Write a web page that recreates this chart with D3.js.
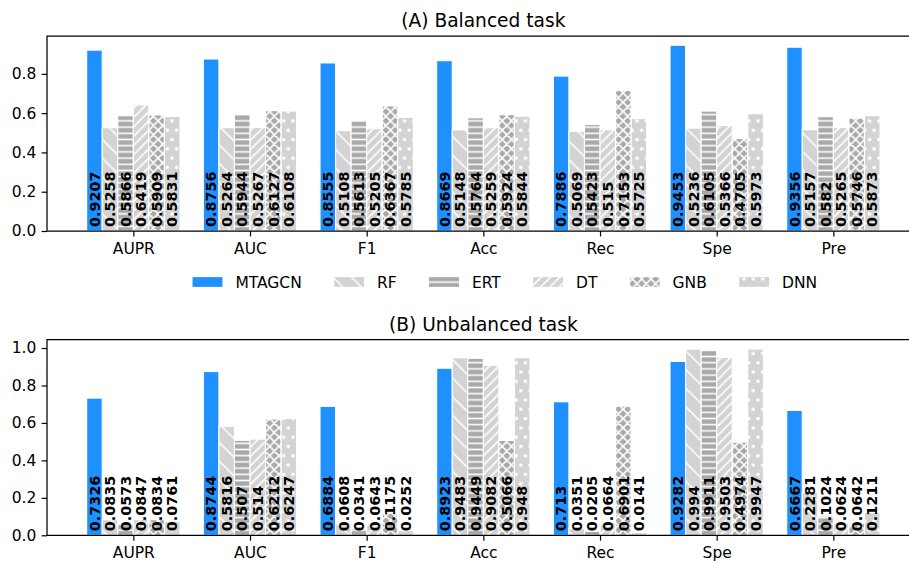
<!DOCTYPE html>
<html>
<head>
<meta charset="utf-8">
<script src="https://cdn.jsdelivr.net/npm/d3@7"></script>
<style>
  html, body { margin: 0; padding: 0; background: #fff; }
  svg { display: block; font-family: "DejaVu Sans", sans-serif; }
</style>
</head>
<body>
<svg id="chart" width="909" height="563"></svg>
<script>
// Metrics along the x axis
const categories = ["AUPR", "AUC", "F1", "Acc", "Rec", "Spe", "Pre"];
const models = ["MTAGCN", "RF", "ERT", "DT", "GNB", "DNN"];

// (A) Balanced task: one array per model, in category order
const balMTAGCN = [0.9207, 0.8756, 0.8555, 0.8669, 0.7886, 0.9453, 0.9356];
const balRF     = [0.5258, 0.5264, 0.5108, 0.5148, 0.5069, 0.5236, 0.5157];
const balERT    = [0.5866, 0.5944, 0.5613, 0.5764, 0.5423, 0.6105, 0.582];
const balDT     = [0.6419, 0.5267, 0.5205, 0.5259, 0.515, 0.5366, 0.5265];
const balGNB    = [0.5909, 0.6127, 0.6367, 0.5924, 0.7153, 0.4705, 0.5746];
const balDNN    = [0.5831, 0.6108, 0.5785, 0.5844, 0.5725, 0.5973, 0.5873];

// (B) Unbalanced task
const unbMTAGCN = [0.7326, 0.8744, 0.6884, 0.8923, 0.713, 0.9282, 0.6667];
const unbRF     = [0.0835, 0.5816, 0.0608, 0.9483, 0.0351, 0.994, 0.2281];
const unbERT    = [0.0573, 0.507, 0.0341, 0.9449, 0.0205, 0.9911, 0.1024];
const unbDT     = [0.0847, 0.514, 0.0643, 0.9082, 0.0664, 0.9503, 0.0624];
const unbGNB    = [0.0834, 0.6212, 0.1175, 0.5066, 0.6901, 0.4974, 0.0642];
const unbDNN    = [0.0761, 0.6247, 0.0252, 0.948, 0.0141, 0.9947, 0.1211];

const ticksA = [0.0, 0.2, 0.4, 0.6, 0.8];
const ticksB = [0.0, 0.2, 0.4, 0.6, 0.8, 1.0];

const panels = [
  { title: "(A) Balanced task", series: [balMTAGCN, balRF, balERT, balDT, balGNB, balDNN], ticks: ticksA, top: 36, bottom: 231, titleY: 26.5 },
  { title: "(B) Unbalanced task", series: [unbMTAGCN, unbRF, unbERT, unbDT, unbGNB, unbDNN], ticks: ticksB, top: 339.7, bottom: 535.3, titleY: 330.5 }
];

// Fill and hatch style for each model
const styles = [
  { fill: "#1E90FF", hatch: null },
  { fill: "#d3d3d3", hatch: "back" },
  { fill: "#a9a9a9", hatch: "horiz" },
  { fill: "#d3d3d3", hatch: "fwd" },
  { fill: "#a9a9a9", hatch: "cross" },
  { fill: "#d3d3d3", hatch: "dots" }
];

const svg = d3.select("#chart");
const defs = svg.append("defs");
const inch = 111.6;          // pixels per hatch unit
const hatchW = 1.55;         // hatch stroke width

function diagPath(T, dir) {
  // dir = 1: "\" lines (x - y = kT); dir = -1: "/" lines (x + y = kT)
  let d = "";
  for (let k = -2; k <= 3; k++) {
    if (dir === 1) d += `M${k * T - T},${-T}L${k * T + 2 * T},${2 * T}`;
    else d += `M${k * T + T},${-T}L${k * T - 2 * T},${2 * T}`;
  }
  return d;
}

function makePattern(id, fill, kind) {
  let T;
  const p = defs.append("pattern").attr("id", id).attr("patternUnits", "userSpaceOnUse");
  if (kind === "back") {
    T = inch / 6;
    p.attr("width", T).attr("height", T);
    p.append("rect").attr("width", T).attr("height", T).attr("fill", fill);
    p.append("path").attr("d", diagPath(T, 1)).attr("stroke", "#fff").attr("stroke-width", hatchW).attr("fill", "none");
  } else if (kind === "fwd") {
    T = inch / 12;
    p.attr("width", T).attr("height", T);
    p.append("rect").attr("width", T).attr("height", T).attr("fill", fill);
    p.append("path").attr("d", diagPath(T, -1)).attr("stroke", "#fff").attr("stroke-width", hatchW).attr("fill", "none");
  } else if (kind === "cross") {
    T = inch / 12;
    p.attr("width", T).attr("height", T);
    p.append("rect").attr("width", T).attr("height", T).attr("fill", fill);
    p.append("path").attr("d", diagPath(T, 1) + diagPath(T, -1)).attr("stroke", "#fff").attr("stroke-width", hatchW).attr("fill", "none");
  } else if (kind === "horiz") {
    T = inch / 18;
    p.attr("width", 10).attr("height", T);
    p.append("rect").attr("width", 10).attr("height", T).attr("fill", fill);
    p.append("line").attr("x1", 0).attr("x2", 10).attr("y1", T / 2).attr("y2", T / 2)
      .attr("stroke", "#fff").attr("stroke-width", hatchW);
  } else if (kind === "dots") {
    T = inch / 12;
    p.attr("width", T).attr("height", 2 * T);
    p.append("rect").attr("width", T).attr("height", 2 * T).attr("fill", fill);
    const pts = [[0, 0], [T, 0], [0, 2 * T], [T, 2 * T], [T / 2, T]];
    pts.forEach(([cx, cy]) => p.append("circle").attr("cx", cx).attr("cy", cy).attr("r", 1.8).attr("fill", "#fff"));
  }
}

styles.forEach((s, j) => { if (s.hatch) makePattern("hatch" + j, s.fill, s.hatch); });
const fillOf = j => styles[j].hatch ? `url(#hatch${j})` : styles[j].fill;

// Shared x scale: groups at integer positions, bars spanning 0.8 of a slot
const groupW = 0.8;
const barW = groupW / models.length;
const xLo = -groupW / 2, xHi = categories.length - 1 + groupW / 2;
const xPad = 0.05 * (xHi - xLo);
const axLeft = 47;
const x = d3.scaleLinear().domain([xLo - xPad, xHi + xPad]).range([axLeft, 919.7]);
const axRight = 909;

const tickFont = 15.5;
const labelFont = 14.4;

panels.forEach(panel => {
  const ymax = d3.max(panel.series.flat()) * 1.05;
  const y = d3.scaleLinear().domain([0, ymax]).range([panel.bottom, panel.top]);
  const g = svg.append("g");

  // Bars
  panel.series.forEach((vals, j) => {
    g.append("g").selectAll("rect").data(vals).join("rect")
      .attr("x", (d, i) => x(i - groupW / 2 + j * barW))
      .attr("width", x(barW) - x(0))
      .attr("y", d => y(d))
      .attr("height", d => y(0) - y(d))
      .attr("fill", fillOf(j))
      .attr("stroke", "#fff")
      .attr("stroke-width", 1.1);
  });

  // Value labels, rotated and anchored at the base of each bar
  panel.series.forEach((vals, j) => {
    g.append("g").selectAll("text").data(vals).join("text")
      .attr("transform", (d, i) => `translate(${x(i - groupW / 2 + (j + 0.5) * barW)},${y(0) - 4}) rotate(-90)`)
      .attr("dy", "0.36em")
      .attr("font-size", labelFont)
      .attr("font-weight", "bold")
      .attr("fill", "#000")
      .text(d => String(d));
  });

  // Y axis
  const yAxis = d3.axisLeft(y).tickValues(panel.ticks).tickFormat(d3.format(".1f")).tickSize(5.4).tickPadding(5.2);
  const ya = g.append("g").attr("transform", `translate(${axLeft},0)`).call(yAxis);
  ya.select(".domain").remove();
  ya.selectAll("line").attr("stroke", "#000").attr("stroke-width", 1.2);
  ya.selectAll("text").attr("font-size", tickFont).attr("font-family", "DejaVu Sans").attr("fill", "#000");

  // X axis
  const xAxis = d3.axisBottom(x).tickValues(d3.range(categories.length)).tickFormat(i => categories[i]).tickSize(5.4).tickPadding(6.6);
  const xa = g.append("g").attr("transform", `translate(0,${panel.bottom})`).call(xAxis);
  xa.select(".domain").remove();
  xa.selectAll("line").attr("stroke", "#000").attr("stroke-width", 1.2);
  xa.selectAll("text").attr("font-size", tickFont).attr("font-family", "DejaVu Sans").attr("fill", "#000");

  // Spines (left, top, bottom)
  g.append("path")
    .attr("d", `M${axRight},${panel.top}H${axLeft}V${panel.bottom}H${axRight}`)
    .attr("fill", "none").attr("stroke", "#000").attr("stroke-width", 1.25);

  // Title
  svg.append("text")
    .attr("x", (x.range()[0] + x.range()[1]) / 2)
    .attr("y", panel.titleY)
    .attr("text-anchor", "middle")
    .attr("font-size", 18.6)
    .attr("fill", "#000")
    .text(panel.title);
});

// Legend in one row between the panels
const legend = svg.append("g").attr("font-size", tickFont);
let lx = 192;
const patchW = 2 * tickFont, patchH = 0.7 * tickFont;
const legendMid = 282;
const colGap = 31.8;
models.forEach((name, j) => {
  legend.append("rect")
    .attr("x", lx).attr("y", legendMid - patchH / 2)
    .attr("width", patchW).attr("height", patchH)
    .attr("fill", fillOf(j)).attr("stroke", "#fff").attr("stroke-width", 1.1);
  const t = legend.append("text")
    .attr("x", lx + patchW + 0.8 * tickFont)
    .attr("y", legendMid + 5.6)
    .attr("fill", "#000")
    .text(name);
  lx = lx + patchW + 0.8 * tickFont + t.node().getComputedTextLength() + colGap;
});
</script>
</body>
</html>
